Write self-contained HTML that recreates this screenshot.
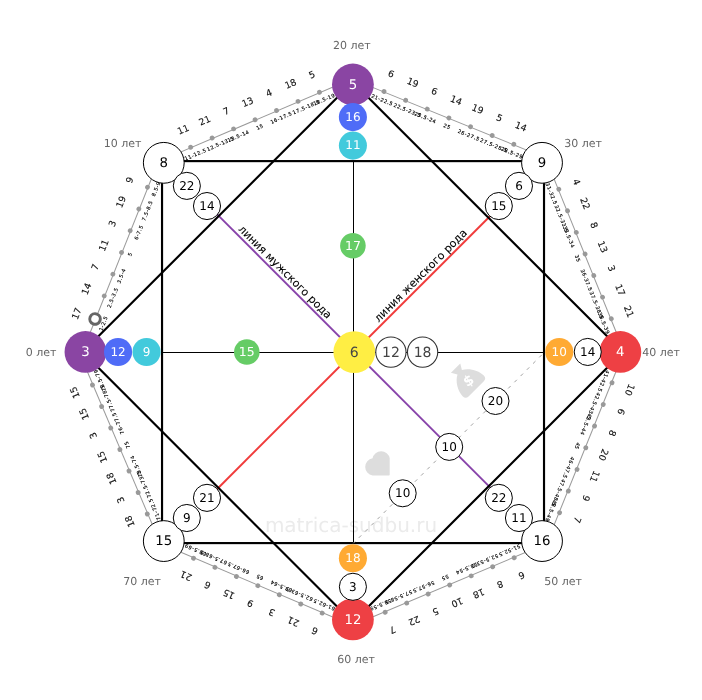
<!DOCTYPE html>
<html lang="ru"><head><meta charset="utf-8"><title>matrica-sudbu.ru</title>
<style>html,body{margin:0;padding:0;background:#fff}svg{display:block;will-change:transform}</style></head>
<body>
<svg width="702" height="700" viewBox="0 0 702 700" font-family='"DejaVu Sans", "Liberation Sans", sans-serif' text-rendering="geometricPrecision">
<rect width="702" height="700" fill="#fff"/>
<text x="351" y="531.6" font-size="20" fill="#ebebeb" text-anchor="middle">matrica-sudbu.ru</text>
<path d="M388.9 475.5 H372.6 A8.7 8.7 0 0 1 372.6 458.3 A8.7 8.7 0 0 1 389.7 458.3 V474.7 Q389.7 475.5 388.9 475.5 Z" fill="#dddddd"/>
<g transform="translate(459.7 372.3) rotate(-45)"><path d="M-6.6 -5.8 L6.6 -5.8 L3.1 0 C9.5 3 14.8 12 14.8 19.3 A4 4 0 0 1 10.8 23.3 L-10.8 23.3 A4 4 0 0 1 -14.8 19.3 C-14.8 12 -9.5 3 -3.1 0 Z" fill="#dddddd"/><text transform="translate(0.2 12.2) rotate(12)" x="0" y="4.6" font-size="14" font-weight="bold" fill="#fff" text-anchor="middle">$</text></g>
<g transform="translate(95.6 317.6) rotate(-68.3)">
<line x1="-40" y1="0.5" x2="180.35" y2="0.5" stroke="#999" stroke-width="1"/>
<circle cx="-1.5" cy="0" r="5.25" fill="#fff" stroke="#666" stroke-width="3"/>
<text x="-3.3" y="-15.94" font-size="9.2" fill="#111" stroke="#111" stroke-width="0.12" text-anchor="middle">17</text>
<text x="-2.5" y="11.22" font-size="5" fill="#000" stroke="#000" stroke-width="0.15" letter-spacing="0.55" text-anchor="middle">1-2.5</text>
<circle cx="23.39" cy="0" r="2.4" fill="#999"/>
<text x="23.39" y="-15.94" font-size="9.2" fill="#111" stroke="#111" stroke-width="0.12" text-anchor="middle">14</text>
<text x="24.99" y="10.32" font-size="5" fill="#000" stroke="#000" stroke-width="0.15" letter-spacing="0.55" text-anchor="middle">2.5-3.5</text>
<circle cx="46.78" cy="0" r="2.4" fill="#999"/>
<text x="46.78" y="-15.94" font-size="9.2" fill="#111" stroke="#111" stroke-width="0.12" text-anchor="middle">7</text>
<text x="48.38" y="10.32" font-size="5" fill="#000" stroke="#000" stroke-width="0.15" letter-spacing="0.55" text-anchor="middle">3.5-4</text>
<circle cx="70.17" cy="0" r="2.4" fill="#999"/>
<text x="70.17" y="-15.94" font-size="9.2" fill="#111" stroke="#111" stroke-width="0.12" text-anchor="middle">11</text>
<text x="71.77" y="10.32" font-size="5" fill="#000" stroke="#000" stroke-width="0.15" letter-spacing="0.55" text-anchor="middle">5</text>
<circle cx="93.57" cy="0" r="2.4" fill="#999"/>
<text x="93.57" y="-15.94" font-size="9.2" fill="#111" stroke="#111" stroke-width="0.12" text-anchor="middle">3</text>
<text x="95.17" y="10.32" font-size="5" fill="#000" stroke="#000" stroke-width="0.15" letter-spacing="0.55" text-anchor="middle">6-7.5</text>
<circle cx="116.96" cy="0" r="2.4" fill="#999"/>
<text x="116.96" y="-15.94" font-size="9.2" fill="#111" stroke="#111" stroke-width="0.12" text-anchor="middle">19</text>
<text x="118.56" y="10.32" font-size="5" fill="#000" stroke="#000" stroke-width="0.15" letter-spacing="0.55" text-anchor="middle">7.5-8.5</text>
<circle cx="140.35" cy="0" r="2.4" fill="#999"/>
<text x="140.35" y="-15.94" font-size="9.2" fill="#111" stroke="#111" stroke-width="0.12" text-anchor="middle">9</text>
<text x="141.95" y="10.32" font-size="5" fill="#000" stroke="#000" stroke-width="0.15" letter-spacing="0.55" text-anchor="middle">8.5-9</text>
</g>
<g transform="translate(190.7 147.2) rotate(-23.12)">
<line x1="-40" y1="0.5" x2="180.05" y2="0.5" stroke="#999" stroke-width="1"/>
<circle cx="0" cy="0" r="2.4" fill="#999"/>
<text x="0" y="-15.94" font-size="9.2" fill="#111" stroke="#111" stroke-width="0.12" text-anchor="middle">11</text>
<text x="1.6" y="10.32" font-size="5" fill="#000" stroke="#000" stroke-width="0.15" letter-spacing="0.55" text-anchor="middle">11-12.5</text>
<circle cx="23.34" cy="0" r="2.4" fill="#999"/>
<text x="23.34" y="-15.94" font-size="9.2" fill="#111" stroke="#111" stroke-width="0.12" text-anchor="middle">21</text>
<text x="14.14" y="10.32" font-size="5" fill="#000" stroke="#000" stroke-width="0.15" letter-spacing="0.55" text-anchor="start">12.5-13.5</text>
<circle cx="46.68" cy="0" r="2.4" fill="#999"/>
<text x="46.68" y="-15.94" font-size="9.2" fill="#111" stroke="#111" stroke-width="0.12" text-anchor="middle">7</text>
<text x="48.28" y="10.32" font-size="5" fill="#000" stroke="#000" stroke-width="0.15" letter-spacing="0.55" text-anchor="middle">13.5-14</text>
<circle cx="70.03" cy="0" r="2.4" fill="#999"/>
<text x="70.03" y="-15.94" font-size="9.2" fill="#111" stroke="#111" stroke-width="0.12" text-anchor="middle">13</text>
<text x="71.63" y="10.32" font-size="5" fill="#000" stroke="#000" stroke-width="0.15" letter-spacing="0.55" text-anchor="middle">15</text>
<circle cx="93.37" cy="0" r="2.4" fill="#999"/>
<text x="93.37" y="-15.94" font-size="9.2" fill="#111" stroke="#111" stroke-width="0.12" text-anchor="middle">4</text>
<text x="94.97" y="10.32" font-size="5" fill="#000" stroke="#000" stroke-width="0.15" letter-spacing="0.55" text-anchor="middle">16-17.5</text>
<circle cx="116.71" cy="0" r="2.4" fill="#999"/>
<text x="116.71" y="-15.94" font-size="9.2" fill="#111" stroke="#111" stroke-width="0.12" text-anchor="middle">18</text>
<text x="107.51" y="10.32" font-size="5" fill="#000" stroke="#000" stroke-width="0.15" letter-spacing="0.55" text-anchor="start">17.5-18.5</text>
<circle cx="140.05" cy="0" r="2.4" fill="#999"/>
<text x="140.05" y="-15.94" font-size="9.2" fill="#111" stroke="#111" stroke-width="0.12" text-anchor="middle">5</text>
<text x="141.65" y="10.32" font-size="5" fill="#000" stroke="#000" stroke-width="0.15" letter-spacing="0.55" text-anchor="middle">18.5-19</text>
</g>
<g transform="translate(384 91.5) rotate(22.14)">
<line x1="-40" y1="0.5" x2="180.13" y2="0.5" stroke="#999" stroke-width="1"/>
<circle cx="0" cy="0" r="2.4" fill="#999"/>
<text x="0" y="-15.94" font-size="9.2" fill="#111" stroke="#111" stroke-width="0.12" text-anchor="middle">6</text>
<text x="1.6" y="10.32" font-size="5" fill="#000" stroke="#000" stroke-width="0.15" letter-spacing="0.55" text-anchor="middle">21-22.5</text>
<circle cx="23.35" cy="0" r="2.4" fill="#999"/>
<text x="23.35" y="-15.94" font-size="9.2" fill="#111" stroke="#111" stroke-width="0.12" text-anchor="middle">19</text>
<text x="14.15" y="10.32" font-size="5" fill="#000" stroke="#000" stroke-width="0.15" letter-spacing="0.55" text-anchor="start">22.5-23.5</text>
<circle cx="46.71" cy="0" r="2.4" fill="#999"/>
<text x="46.71" y="-15.94" font-size="9.2" fill="#111" stroke="#111" stroke-width="0.12" text-anchor="middle">6</text>
<text x="48.31" y="10.32" font-size="5" fill="#000" stroke="#000" stroke-width="0.15" letter-spacing="0.55" text-anchor="middle">23.5-24</text>
<circle cx="70.06" cy="0" r="2.4" fill="#999"/>
<text x="70.06" y="-15.94" font-size="9.2" fill="#111" stroke="#111" stroke-width="0.12" text-anchor="middle">14</text>
<text x="71.66" y="10.32" font-size="5" fill="#000" stroke="#000" stroke-width="0.15" letter-spacing="0.55" text-anchor="middle">25</text>
<circle cx="93.42" cy="0" r="2.4" fill="#999"/>
<text x="93.42" y="-15.94" font-size="9.2" fill="#111" stroke="#111" stroke-width="0.12" text-anchor="middle">19</text>
<text x="95.02" y="10.32" font-size="5" fill="#000" stroke="#000" stroke-width="0.15" letter-spacing="0.55" text-anchor="middle">26-27.5</text>
<circle cx="116.77" cy="0" r="2.4" fill="#999"/>
<text x="116.77" y="-15.94" font-size="9.2" fill="#111" stroke="#111" stroke-width="0.12" text-anchor="middle">5</text>
<text x="107.57" y="10.32" font-size="5" fill="#000" stroke="#000" stroke-width="0.15" letter-spacing="0.55" text-anchor="start">27.5-28.5</text>
<circle cx="140.13" cy="0" r="2.4" fill="#999"/>
<text x="140.13" y="-15.94" font-size="9.2" fill="#111" stroke="#111" stroke-width="0.12" text-anchor="middle">14</text>
<text x="141.73" y="10.32" font-size="5" fill="#000" stroke="#000" stroke-width="0.15" letter-spacing="0.55" text-anchor="middle">28.5-29</text>
</g>
<g transform="translate(558.8 189.2) rotate(67.93)">
<line x1="-40" y1="0.5" x2="179.74" y2="0.5" stroke="#999" stroke-width="1"/>
<circle cx="0" cy="0" r="2.4" fill="#999"/>
<text x="0" y="-15.94" font-size="9.2" fill="#111" stroke="#111" stroke-width="0.12" text-anchor="middle">4</text>
<text x="1.6" y="10.32" font-size="5" fill="#000" stroke="#000" stroke-width="0.15" letter-spacing="0.55" text-anchor="middle">31-32.5</text>
<circle cx="23.29" cy="0" r="2.4" fill="#999"/>
<text x="23.29" y="-15.94" font-size="9.2" fill="#111" stroke="#111" stroke-width="0.12" text-anchor="middle">22</text>
<text x="14.09" y="10.32" font-size="5" fill="#000" stroke="#000" stroke-width="0.15" letter-spacing="0.55" text-anchor="start">32.5-33.5</text>
<circle cx="46.58" cy="0" r="2.4" fill="#999"/>
<text x="46.58" y="-15.94" font-size="9.2" fill="#111" stroke="#111" stroke-width="0.12" text-anchor="middle">8</text>
<text x="48.18" y="10.32" font-size="5" fill="#000" stroke="#000" stroke-width="0.15" letter-spacing="0.55" text-anchor="middle">33.5-34</text>
<circle cx="69.87" cy="0" r="2.4" fill="#999"/>
<text x="69.87" y="-15.94" font-size="9.2" fill="#111" stroke="#111" stroke-width="0.12" text-anchor="middle">13</text>
<text x="71.47" y="10.32" font-size="5" fill="#000" stroke="#000" stroke-width="0.15" letter-spacing="0.55" text-anchor="middle">35</text>
<circle cx="93.16" cy="0" r="2.4" fill="#999"/>
<text x="93.16" y="-15.94" font-size="9.2" fill="#111" stroke="#111" stroke-width="0.12" text-anchor="middle">3</text>
<text x="94.76" y="10.32" font-size="5" fill="#000" stroke="#000" stroke-width="0.15" letter-spacing="0.55" text-anchor="middle">36-37.5</text>
<circle cx="116.45" cy="0" r="2.4" fill="#999"/>
<text x="116.45" y="-15.94" font-size="9.2" fill="#111" stroke="#111" stroke-width="0.12" text-anchor="middle">17</text>
<text x="107.25" y="10.32" font-size="5" fill="#000" stroke="#000" stroke-width="0.15" letter-spacing="0.55" text-anchor="start">37.5-38.5</text>
<circle cx="139.74" cy="0" r="2.4" fill="#999"/>
<text x="139.74" y="-15.94" font-size="9.2" fill="#111" stroke="#111" stroke-width="0.12" text-anchor="middle">21</text>
<text x="141.34" y="10.32" font-size="5" fill="#000" stroke="#000" stroke-width="0.15" letter-spacing="0.55" text-anchor="middle">38.5-39</text>
</g>
<g transform="translate(612 382.8) rotate(111.97)">
<line x1="-40" y1="0.5" x2="180.07" y2="0.5" stroke="#999" stroke-width="1"/>
<circle cx="0" cy="0" r="2.4" fill="#999"/>
<text x="0" y="-15.94" font-size="9.2" fill="#111" stroke="#111" stroke-width="0.12" text-anchor="middle">10</text>
<text x="1.6" y="10.32" font-size="5" fill="#000" stroke="#000" stroke-width="0.15" letter-spacing="0.55" text-anchor="middle">41-42.5</text>
<circle cx="23.35" cy="0" r="2.4" fill="#999"/>
<text x="23.35" y="-15.94" font-size="9.2" fill="#111" stroke="#111" stroke-width="0.12" text-anchor="middle">6</text>
<text x="14.15" y="10.32" font-size="5" fill="#000" stroke="#000" stroke-width="0.15" letter-spacing="0.55" text-anchor="start">42.5-43.5</text>
<circle cx="46.69" cy="0" r="2.4" fill="#999"/>
<text x="46.69" y="-15.94" font-size="9.2" fill="#111" stroke="#111" stroke-width="0.12" text-anchor="middle">8</text>
<text x="48.29" y="10.32" font-size="5" fill="#000" stroke="#000" stroke-width="0.15" letter-spacing="0.55" text-anchor="middle">43.5-44</text>
<circle cx="70.04" cy="0" r="2.4" fill="#999"/>
<text x="70.04" y="-15.94" font-size="9.2" fill="#111" stroke="#111" stroke-width="0.12" text-anchor="middle">20</text>
<text x="71.64" y="10.32" font-size="5" fill="#000" stroke="#000" stroke-width="0.15" letter-spacing="0.55" text-anchor="middle">45</text>
<circle cx="93.38" cy="0" r="2.4" fill="#999"/>
<text x="93.38" y="-15.94" font-size="9.2" fill="#111" stroke="#111" stroke-width="0.12" text-anchor="middle">11</text>
<text x="94.98" y="10.32" font-size="5" fill="#000" stroke="#000" stroke-width="0.15" letter-spacing="0.55" text-anchor="middle">46-47.5</text>
<circle cx="116.73" cy="0" r="2.4" fill="#999"/>
<text x="116.73" y="-15.94" font-size="9.2" fill="#111" stroke="#111" stroke-width="0.12" text-anchor="middle">9</text>
<text x="107.53" y="10.32" font-size="5" fill="#000" stroke="#000" stroke-width="0.15" letter-spacing="0.55" text-anchor="start">47.5-48.5</text>
<circle cx="140.07" cy="0" r="2.4" fill="#999"/>
<text x="140.07" y="-15.94" font-size="9.2" fill="#111" stroke="#111" stroke-width="0.12" text-anchor="middle">7</text>
<text x="141.67" y="10.32" font-size="5" fill="#000" stroke="#000" stroke-width="0.15" letter-spacing="0.55" text-anchor="middle">48.5-49</text>
</g>
<g transform="translate(514.2 557.7) rotate(157.1)">
<line x1="-40" y1="0.5" x2="180.04" y2="0.5" stroke="#999" stroke-width="1"/>
<circle cx="0" cy="0" r="2.4" fill="#999"/>
<text x="0" y="-15.94" font-size="9.2" fill="#111" stroke="#111" stroke-width="0.12" text-anchor="middle">6</text>
<text x="1.6" y="10.32" font-size="5" fill="#000" stroke="#000" stroke-width="0.15" letter-spacing="0.55" text-anchor="middle">51-52.5</text>
<circle cx="23.34" cy="0" r="2.4" fill="#999"/>
<text x="23.34" y="-15.94" font-size="9.2" fill="#111" stroke="#111" stroke-width="0.12" text-anchor="middle">8</text>
<text x="14.14" y="10.32" font-size="5" fill="#000" stroke="#000" stroke-width="0.15" letter-spacing="0.55" text-anchor="start">52.5-53.5</text>
<circle cx="46.68" cy="0" r="2.4" fill="#999"/>
<text x="46.68" y="-15.94" font-size="9.2" fill="#111" stroke="#111" stroke-width="0.12" text-anchor="middle">18</text>
<text x="48.28" y="10.32" font-size="5" fill="#000" stroke="#000" stroke-width="0.15" letter-spacing="0.55" text-anchor="middle">53.5-54</text>
<circle cx="70.02" cy="0" r="2.4" fill="#999"/>
<text x="70.02" y="-15.94" font-size="9.2" fill="#111" stroke="#111" stroke-width="0.12" text-anchor="middle">10</text>
<text x="71.62" y="10.32" font-size="5" fill="#000" stroke="#000" stroke-width="0.15" letter-spacing="0.55" text-anchor="middle">55</text>
<circle cx="93.36" cy="0" r="2.4" fill="#999"/>
<text x="93.36" y="-15.94" font-size="9.2" fill="#111" stroke="#111" stroke-width="0.12" text-anchor="middle">5</text>
<text x="94.96" y="10.32" font-size="5" fill="#000" stroke="#000" stroke-width="0.15" letter-spacing="0.55" text-anchor="middle">56-57.5</text>
<circle cx="116.7" cy="0" r="2.4" fill="#999"/>
<text x="116.7" y="-15.94" font-size="9.2" fill="#111" stroke="#111" stroke-width="0.12" text-anchor="middle">22</text>
<text x="107.5" y="10.32" font-size="5" fill="#000" stroke="#000" stroke-width="0.15" letter-spacing="0.55" text-anchor="start">57.5-58.5</text>
<circle cx="140.04" cy="0" r="2.4" fill="#999"/>
<text x="140.04" y="-15.94" font-size="9.2" fill="#111" stroke="#111" stroke-width="0.12" text-anchor="middle">7</text>
<text x="141.64" y="10.32" font-size="5" fill="#000" stroke="#000" stroke-width="0.15" letter-spacing="0.55" text-anchor="middle">58.5-59</text>
</g>
<g transform="translate(322.2 613.1) rotate(-156.9)">
<line x1="-40" y1="0.5" x2="179.92" y2="0.5" stroke="#999" stroke-width="1"/>
<circle cx="0" cy="0" r="2.4" fill="#999"/>
<text x="0" y="-15.94" font-size="9.2" fill="#111" stroke="#111" stroke-width="0.12" text-anchor="middle">6</text>
<text x="1.6" y="10.32" font-size="5" fill="#000" stroke="#000" stroke-width="0.15" letter-spacing="0.55" text-anchor="middle">61-62.5</text>
<circle cx="23.32" cy="0" r="2.4" fill="#999"/>
<text x="23.32" y="-15.94" font-size="9.2" fill="#111" stroke="#111" stroke-width="0.12" text-anchor="middle">21</text>
<text x="14.12" y="10.32" font-size="5" fill="#000" stroke="#000" stroke-width="0.15" letter-spacing="0.55" text-anchor="start">62.5-63.5</text>
<circle cx="46.64" cy="0" r="2.4" fill="#999"/>
<text x="46.64" y="-15.94" font-size="9.2" fill="#111" stroke="#111" stroke-width="0.12" text-anchor="middle">3</text>
<text x="48.24" y="10.32" font-size="5" fill="#000" stroke="#000" stroke-width="0.15" letter-spacing="0.55" text-anchor="middle">63.5-64</text>
<circle cx="69.96" cy="0" r="2.4" fill="#999"/>
<text x="69.96" y="-15.94" font-size="9.2" fill="#111" stroke="#111" stroke-width="0.12" text-anchor="middle">9</text>
<text x="71.56" y="10.32" font-size="5" fill="#000" stroke="#000" stroke-width="0.15" letter-spacing="0.55" text-anchor="middle">65</text>
<circle cx="93.28" cy="0" r="2.4" fill="#999"/>
<text x="93.28" y="-15.94" font-size="9.2" fill="#111" stroke="#111" stroke-width="0.12" text-anchor="middle">15</text>
<text x="94.88" y="10.32" font-size="5" fill="#000" stroke="#000" stroke-width="0.15" letter-spacing="0.55" text-anchor="middle">66-67.5</text>
<circle cx="116.6" cy="0" r="2.4" fill="#999"/>
<text x="116.6" y="-15.94" font-size="9.2" fill="#111" stroke="#111" stroke-width="0.12" text-anchor="middle">6</text>
<text x="107.4" y="10.32" font-size="5" fill="#000" stroke="#000" stroke-width="0.15" letter-spacing="0.55" text-anchor="start">67.5-68.5</text>
<circle cx="139.92" cy="0" r="2.4" fill="#999"/>
<text x="139.92" y="-15.94" font-size="9.2" fill="#111" stroke="#111" stroke-width="0.12" text-anchor="middle">21</text>
<text x="141.52" y="10.32" font-size="5" fill="#000" stroke="#000" stroke-width="0.15" letter-spacing="0.55" text-anchor="middle">68.5-69</text>
</g>
<g transform="translate(147.3 514) rotate(-113.02)">
<line x1="-40" y1="0.5" x2="180.16" y2="0.5" stroke="#999" stroke-width="1"/>
<circle cx="0" cy="0" r="2.4" fill="#999"/>
<text x="0" y="-15.94" font-size="9.2" fill="#111" stroke="#111" stroke-width="0.12" text-anchor="middle">18</text>
<text x="1.6" y="10.32" font-size="5" fill="#000" stroke="#000" stroke-width="0.15" letter-spacing="0.55" text-anchor="middle">71-72.5</text>
<circle cx="23.36" cy="0" r="2.4" fill="#999"/>
<text x="23.36" y="-15.94" font-size="9.2" fill="#111" stroke="#111" stroke-width="0.12" text-anchor="middle">3</text>
<text x="14.16" y="10.32" font-size="5" fill="#000" stroke="#000" stroke-width="0.15" letter-spacing="0.55" text-anchor="start">72.5-73.5</text>
<circle cx="46.72" cy="0" r="2.4" fill="#999"/>
<text x="46.72" y="-15.94" font-size="9.2" fill="#111" stroke="#111" stroke-width="0.12" text-anchor="middle">18</text>
<text x="48.32" y="10.32" font-size="5" fill="#000" stroke="#000" stroke-width="0.15" letter-spacing="0.55" text-anchor="middle">73.5-74</text>
<circle cx="70.08" cy="0" r="2.4" fill="#999"/>
<text x="70.08" y="-15.94" font-size="9.2" fill="#111" stroke="#111" stroke-width="0.12" text-anchor="middle">15</text>
<text x="71.68" y="10.32" font-size="5" fill="#000" stroke="#000" stroke-width="0.15" letter-spacing="0.55" text-anchor="middle">75</text>
<circle cx="93.44" cy="0" r="2.4" fill="#999"/>
<text x="93.44" y="-15.94" font-size="9.2" fill="#111" stroke="#111" stroke-width="0.12" text-anchor="middle">3</text>
<text x="95.04" y="10.32" font-size="5" fill="#000" stroke="#000" stroke-width="0.15" letter-spacing="0.55" text-anchor="middle">76-77.5</text>
<circle cx="116.8" cy="0" r="2.4" fill="#999"/>
<text x="116.8" y="-15.94" font-size="9.2" fill="#111" stroke="#111" stroke-width="0.12" text-anchor="middle">15</text>
<text x="107.6" y="10.32" font-size="5" fill="#000" stroke="#000" stroke-width="0.15" letter-spacing="0.55" text-anchor="start">77.5-78.5</text>
<circle cx="140.16" cy="0" r="2.4" fill="#999"/>
<text x="140.16" y="-15.94" font-size="9.2" fill="#111" stroke="#111" stroke-width="0.12" text-anchor="middle">15</text>
<text x="141.76" y="10.32" font-size="5" fill="#000" stroke="#000" stroke-width="0.15" letter-spacing="0.55" text-anchor="middle">78.5-79</text>
</g>
<line x1="207.9" y1="205.1" x2="499.4" y2="496.6" stroke="#8844aa" stroke-width="1.9"/>
<line x1="207.7" y1="498.5" x2="499.2" y2="207" stroke="#f03c3c" stroke-width="2"/>
<rect x="162.04" y="161.11" width="381.98" height="381.98" fill="none" stroke="#000" stroke-width="2.15"/>
<polygon points="82.65,352.1 352.75,82 622.85,352.1 352.75,622.2" fill="none" stroke="#000" stroke-width="2.15"/>
<line x1="161.91" y1="352.5" x2="543.89" y2="352.5" stroke="#000" stroke-width="1"/>
<line x1="353.5" y1="160.96" x2="353.5" y2="542.94" stroke="#000" stroke-width="1"/>
<line x1="353.3" y1="543.34" x2="544.29" y2="352.35" stroke="#999" stroke-width="0.9" stroke-dasharray="3.5 5.3" stroke-dashoffset="1"/>
<text transform="translate(282.5 274.5) rotate(45)" font-size="11" fill="#000" stroke="#000" stroke-width="0.08" text-anchor="middle">линия мужского рода</text>
<text transform="translate(423.2 278.1) rotate(-45)" font-size="11" fill="#000" stroke="#000" stroke-width="0.08" text-anchor="middle">линия женского рода</text>
<circle cx="85.45" cy="351.95" r="20.9" fill="#8a45a3"/>
<text x="85.45" y="356.2" font-size="13.3" fill="#fff" text-anchor="middle">3</text>
<circle cx="163.78" cy="162.83" r="20.4" fill="#fff" stroke="#000" stroke-width="1"/>
<text x="163.78" y="167.09" font-size="13.3" fill="#000" text-anchor="middle">8</text>
<circle cx="352.9" cy="84.5" r="20.9" fill="#8a45a3"/>
<text x="352.9" y="88.75" font-size="13.3" fill="#fff" text-anchor="middle">5</text>
<circle cx="542.02" cy="162.83" r="20.4" fill="#fff" stroke="#000" stroke-width="1"/>
<text x="542.02" y="167.09" font-size="13.3" fill="#000" text-anchor="middle">9</text>
<circle cx="620.35" cy="351.95" r="20.9" fill="#ee4044"/>
<text x="620.35" y="356.2" font-size="13.3" fill="#fff" text-anchor="middle">4</text>
<circle cx="542.02" cy="541.07" r="20.4" fill="#fff" stroke="#000" stroke-width="1"/>
<text x="542.02" y="545.32" font-size="13.3" fill="#000" text-anchor="middle">16</text>
<circle cx="352.9" cy="619.4" r="20.9" fill="#ee4044"/>
<text x="352.9" y="623.65" font-size="13.3" fill="#fff" text-anchor="middle">12</text>
<circle cx="163.78" cy="541.07" r="20.4" fill="#fff" stroke="#000" stroke-width="1"/>
<text x="163.78" y="545.32" font-size="13.3" fill="#000" text-anchor="middle">15</text>
<circle cx="118.05" cy="351.95" r="14.05" fill="#4f6cf7"/>
<text x="118.05" y="355.73" font-size="12" fill="#fff" text-anchor="middle">12</text>
<circle cx="186.84" cy="185.89" r="13.55" fill="#fff" stroke="#000" stroke-width="1"/>
<text x="186.84" y="189.67" font-size="12" fill="#000" text-anchor="middle">22</text>
<circle cx="352.9" cy="117.1" r="14.05" fill="#4f6cf7"/>
<text x="352.9" y="120.88" font-size="12" fill="#fff" text-anchor="middle">16</text>
<circle cx="518.96" cy="185.89" r="13.55" fill="#fff" stroke="#000" stroke-width="1"/>
<text x="518.96" y="189.67" font-size="12" fill="#000" text-anchor="middle">6</text>
<circle cx="587.75" cy="351.95" r="13.55" fill="#fff" stroke="#000" stroke-width="1"/>
<text x="587.75" y="355.73" font-size="12" fill="#000" text-anchor="middle">14</text>
<circle cx="518.96" cy="518.01" r="13.55" fill="#fff" stroke="#000" stroke-width="1"/>
<text x="518.96" y="521.79" font-size="12" fill="#000" text-anchor="middle">11</text>
<circle cx="352.9" cy="586.8" r="13.55" fill="#fff" stroke="#000" stroke-width="1"/>
<text x="352.9" y="590.58" font-size="12" fill="#000" text-anchor="middle">3</text>
<circle cx="186.84" cy="518.01" r="13.55" fill="#fff" stroke="#000" stroke-width="1"/>
<text x="186.84" y="521.79" font-size="12" fill="#000" text-anchor="middle">9</text>
<circle cx="146.55" cy="351.95" r="14.05" fill="#42cadc"/>
<text x="146.55" y="355.73" font-size="12" fill="#fff" text-anchor="middle">9</text>
<circle cx="206.99" cy="206.04" r="13.55" fill="#fff" stroke="#000" stroke-width="1"/>
<text x="206.99" y="209.82" font-size="12" fill="#000" text-anchor="middle">14</text>
<circle cx="352.9" cy="145.6" r="14.05" fill="#42cadc"/>
<text x="352.9" y="149.38" font-size="12" fill="#fff" text-anchor="middle">11</text>
<circle cx="498.81" cy="206.04" r="13.55" fill="#fff" stroke="#000" stroke-width="1"/>
<text x="498.81" y="209.82" font-size="12" fill="#000" text-anchor="middle">15</text>
<circle cx="559.25" cy="351.95" r="14.05" fill="#ffaa33"/>
<text x="559.25" y="355.73" font-size="12" fill="#fff" text-anchor="middle">10</text>
<circle cx="498.81" cy="497.86" r="13.55" fill="#fff" stroke="#000" stroke-width="1"/>
<text x="498.81" y="501.64" font-size="12" fill="#000" text-anchor="middle">22</text>
<circle cx="352.9" cy="558.3" r="14.05" fill="#ffaa33"/>
<text x="352.9" y="562.08" font-size="12" fill="#fff" text-anchor="middle">18</text>
<circle cx="206.99" cy="497.86" r="13.55" fill="#fff" stroke="#000" stroke-width="1"/>
<text x="206.99" y="501.64" font-size="12" fill="#000" text-anchor="middle">21</text>
<circle cx="352.9" cy="245.7" r="12.8" fill="#66cc66"/>
<text x="352.9" y="249.66" font-size="12.5" fill="#fff" text-anchor="middle">17</text>
<circle cx="246.8" cy="351.95" r="12.8" fill="#66cc66"/>
<text x="246.8" y="355.91" font-size="12.5" fill="#fff" text-anchor="middle">15</text>
<circle cx="354.3" cy="352.1" r="20.9" fill="#ffee44"/>
<text x="354.3" y="356.61" font-size="14" fill="#444" text-anchor="middle">6</text>
<circle cx="390.9" cy="352.1" r="15.15" fill="#fff" stroke="#333" stroke-width="1.1"/>
<text x="390.9" y="356.61" font-size="14" fill="#444" text-anchor="middle">12</text>
<circle cx="422.6" cy="352.1" r="15.15" fill="#fff" stroke="#333" stroke-width="1.1"/>
<text x="422.6" y="356.61" font-size="14" fill="#444" text-anchor="middle">18</text>
<circle cx="495.5" cy="401" r="13.5" fill="#fff" stroke="#000" stroke-width="1"/>
<text x="495.5" y="404.78" font-size="12" fill="#000" text-anchor="middle">20</text>
<circle cx="449.2" cy="446.9" r="13.5" fill="#fff" stroke="#000" stroke-width="1"/>
<text x="449.2" y="450.68" font-size="12" fill="#000" text-anchor="middle">10</text>
<circle cx="402.7" cy="493.3" r="13.5" fill="#fff" stroke="#000" stroke-width="1"/>
<text x="402.7" y="497.08" font-size="12" fill="#000" text-anchor="middle">10</text>
<text x="41" y="355.9" font-size="11" fill="#666" text-anchor="middle">0 лет</text>
<text x="122.5" y="146.9" font-size="11" fill="#666" text-anchor="middle">10 лет</text>
<text x="351.8" y="48.9" font-size="11" fill="#666" text-anchor="middle">20 лет</text>
<text x="583" y="146.9" font-size="11" fill="#666" text-anchor="middle">30 лет</text>
<text x="661" y="355.9" font-size="11" fill="#666" text-anchor="middle">40 лет</text>
<text x="563" y="584.9" font-size="11" fill="#666" text-anchor="middle">50 лет</text>
<text x="356" y="663.4" font-size="11" fill="#666" text-anchor="middle">60 лет</text>
<text x="142" y="584.9" font-size="11" fill="#666" text-anchor="middle">70 лет</text>
</svg>
</body></html>
